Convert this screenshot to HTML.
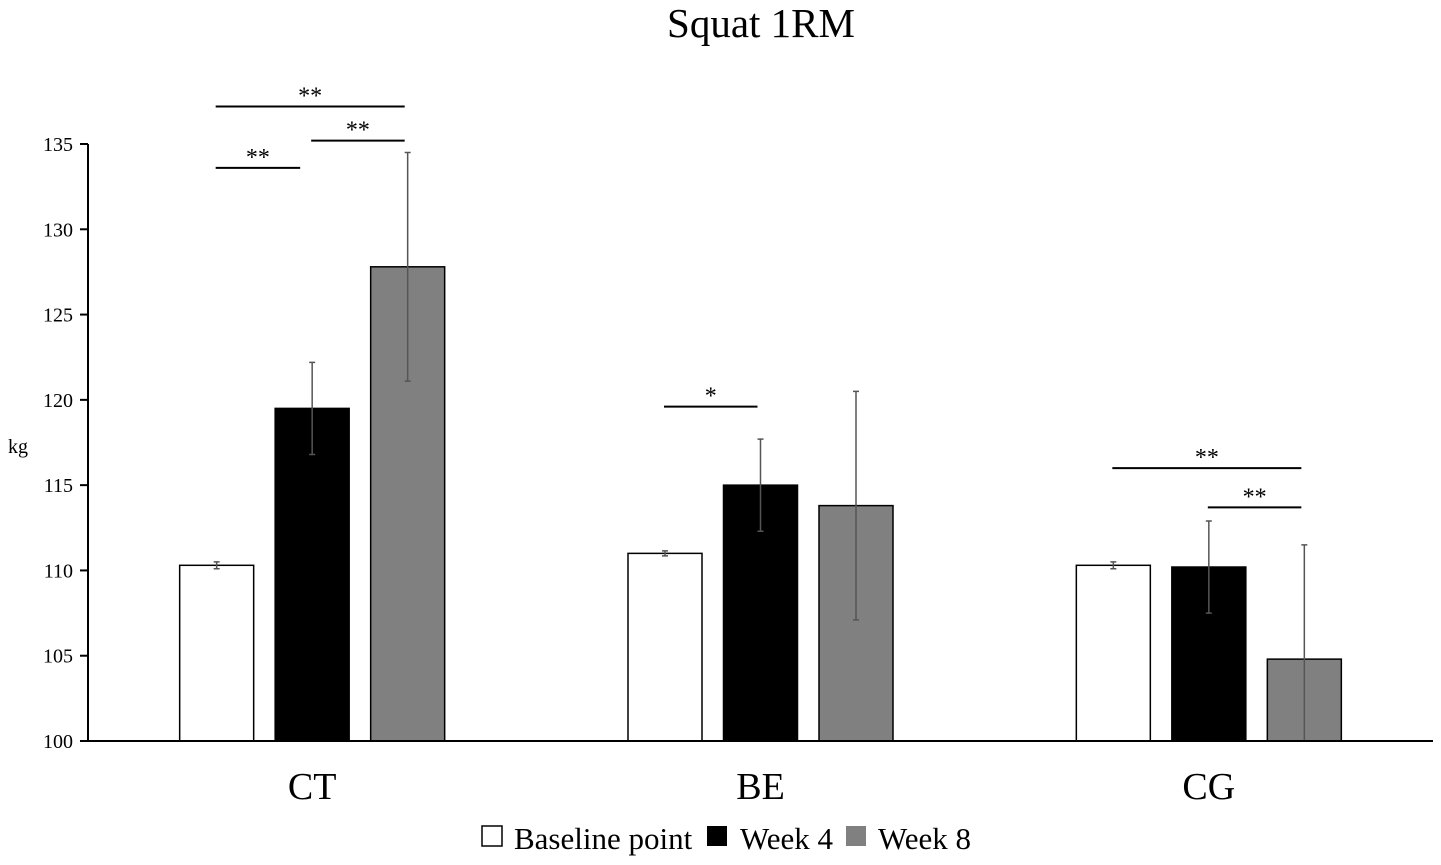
<!DOCTYPE html>
<html><head><meta charset="utf-8"><style>
html,body{margin:0;padding:0;background:#fff;}
svg{display:block;font-family:"Liberation Serif",serif;}
</style></head><body>
<svg id="chart" width="1441" height="865">
<text x="761" y="37" text-anchor="middle" font-size="41">Squat 1RM</text>
<text x="8" y="453" font-size="20">kg</text>
<g id="yaxis"></g>
<g id="bars"></g>
<g id="sig"></g>
<g id="legend">
<rect x="482" y="826" width="20" height="20" fill="#fff" stroke="#000" stroke-width="1.5"/>
<text x="514" y="849" font-size="31">Baseline point</text>
<rect x="707" y="826" width="20" height="20" fill="#000"/>
<text x="740" y="849" font-size="31">Week 4</text>
<rect x="846" y="826" width="20" height="20" fill="#808080"/>
<text x="878" y="849" font-size="31">Week 8</text>
</g>
</svg>
<script>
const categories = ["CT","BE","CG"];
const baseline = [110.3,111.0,110.3];
const week4 = [119.5,115.0,110.2];
const week8 = [127.8,113.8,104.8];
const baselineErr = [0.2,0.15,0.2];
const week4Err = [2.7,2.7,2.7];
const week8Err = [6.7,6.7,6.7];
const yTicks = [100,105,110,115,120,125,130,135];
// brackets: [category, fromSeries, toSeries, valueLevel]
const brackets = [[0,0,1,133.6],[0,1,2,135.2],[0,0,2,137.2],[1,0,1,119.6],[2,0,2,116.0],[2,1,2,113.7]];
const bracketLabels = ["**","**","**","*","**","**"];

const NS="http://www.w3.org/2000/svg";
const x0=88,x1=1433,yMin=100,yMax=135,py0=741,py1=144;
const y=v=>py0-(v-yMin)/(yMax-yMin)*(py0-py1);
const band=(x1-x0)/categories.length;
const cx=i=>x0+band*(i+0.5);
const barW=74,step=95.5;
const bx=(i,s)=>cx(i)+(s-1)*step;
function mk(tag,attrs,parent){const e=document.createElementNS(NS,tag);for(const k in attrs)e.setAttribute(k,attrs[k]);parent.appendChild(e);return e;}
const ya=document.getElementById('yaxis');
const l1=mk('line',{x1:x0,x2:x0,y1:py1,y2:py0,stroke:'#000','stroke-width':2},ya);


yTicks.forEach(t=>{
 const tk=mk('line',{x1:x0-8,x2:x0,y1:y(t),y2:y(t),stroke:'#000','stroke-width':2},ya);
 
 
 const tx=mk('text',{x:x0-15,y:y(t)+7,'text-anchor':'end','font-size':20},ya);tx.textContent=t;
 
 
});
const bg=document.getElementById('bars');
const series=[[baseline,baselineErr,'#fff'],[week4,week4Err,'#000'],[week8,week8Err,'#808080']];
categories.forEach((c,i)=>{
 series.forEach(([vals,errs,col],s)=>{
  const cxx=bx(i,s),v=vals[i];
  const r=mk('rect',{x:cxx-barW/2,y:y(v),width:barW,height:py0-y(v),fill:col,stroke:'#000','stroke-width':1.5},bg);
  
  
  const hi=y(v+errs[i]),lo=Math.min(py0,y(v-errs[i]));
  const e=mk('path',{d:`M${cxx-3},${hi}H${cxx+3}M${cxx},${hi}V${lo}M${cxx-3},${lo}H${cxx+3}`,stroke:'#555','stroke-width':1.5,fill:'none'},bg);
  
  
 });
 const t=mk('text',{x:cx(i),y:799,'text-anchor':'middle','font-size':38},bg);t.textContent=c;
 
 
});
const xl=mk('line',{x1:x0,x2:x1,y1:py0,y2:py0,stroke:'#000','stroke-width':2},bg);


const sg=document.getElementById('sig');
brackets.forEach(([ci,a,b,lvl],k)=>{
 const yy=y(lvl);
 const lx=bx(ci,a)-1, rx=bx(ci,b)-(k===0?12:3);
 const ln=mk('line',{x1:lx,x2:rx,y1:yy,y2:yy,stroke:'#000','stroke-width':2},sg);
 
 
 const t=mk('text',{x:(lx+rx)/2,y:yy-3,'text-anchor':'middle','font-size':24},sg);t.textContent=bracketLabels[k];
 
 
});
</script>
</body></html>
